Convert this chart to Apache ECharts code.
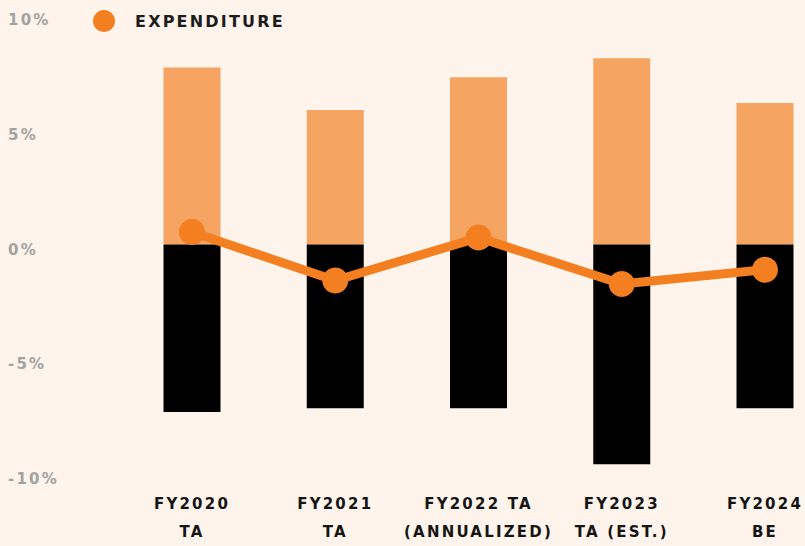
<!DOCTYPE html>
<html>
<head>
<meta charset="utf-8">
<script src="https://cdn.jsdelivr.net/npm/echarts@6/dist/echarts.min.js"></script>
<style>
  html, body { margin: 0; padding: 0; background: #FEF4EB; }
  #chart { width: 805px; height: 546px; }
  #chart text { letter-spacing: 2.2px; }
</style>
</head>
<body>
<div id="chart"></div>
<script>
// Fiscal years on the x axis
const categories = ['FY2020\nTA', 'FY2021\nTA', 'FY2022 TA\n(ANNUALIZED)', 'FY2023\nTA (EST.)', 'FY2024\nBE'];
// Positive component (orange bars), percent
const positiveValues = [7.71, 5.86, 7.29, 8.12, 6.17];
// Negative component (black bars), percent
const negativeValues = [-7.30, -7.13, -7.13, -9.57, -7.13];
// Expenditure line, percent
const expenditure = [0.54, -1.57, 0.30, -1.72, -1.10];
// Y axis range and step
const yMin = -10, yMax = 10, yStep = 5;

const chart = echarts.init(document.getElementById('chart'), null, { renderer: 'svg' });

chart.setOption({
  backgroundColor: '#FEF4EB',
  animation: false,
  textStyle: { fontFamily: 'DejaVu Sans' },
  // categories sit on the grid edges; the outer bars extend past them
  grid: { left: 192, top: 15, height: 460, width: 573 },
  legend: {
    data: ['EXPENDITURE'],
    left: 88,
    top: 5,
    icon: 'circle',
    itemWidth: 22,
    itemHeight: 22,
    textStyle: {
      fontFamily: 'DejaVu Sans',
      fontWeight: 'bold',
      fontSize: 16,
      color: '#1c1c1c',
      padding: [0, 0, 0, 15]
    }
  },
  xAxis: {
    type: 'category',
    data: categories,
    boundaryGap: false,
    axisLine: { show: false, onZero: false },
    axisTick: { show: false },
    splitLine: { show: false },
    axisLabel: {
      interval: 0,
      margin: 16,
      fontFamily: 'DejaVu Sans',
      fontWeight: 'bold',
      fontSize: 15,
      lineHeight: 28,
      color: '#151515'
    }
  },
  yAxis: {
    type: 'value',
    min: yMin,
    max: yMax,
    interval: yStep,
    axisLine: { show: false },
    axisTick: { show: false },
    splitLine: { show: false },
    axisLabel: {
      formatter: (v) => '{t|' + v + '%}',
      align: 'left',
      margin: 184,
      rich: {
        t: {
          fontFamily: 'DejaVu Sans',
          fontWeight: 'bold',
          fontSize: 15,
          color: '#A2A2A2',
          padding: [10, 0, 0, 0]
        }
      }
    }
  },
  series: [
    {
      name: 'Positive',
      type: 'bar',
      stack: 'total',
      barWidth: 57,
      clip: false,
      data: positiveValues,
      itemStyle: { color: '#F6A461' },
      z: 2
    },
    {
      name: 'Negative',
      type: 'bar',
      stack: 'total',
      barWidth: 57,
      clip: false,
      data: negativeValues,
      itemStyle: { color: '#000000' },
      z: 2
    },
    {
      name: 'EXPENDITURE',
      type: 'line',
      data: expenditure,
      clip: false,
      symbol: 'circle',
      symbolSize: 26,
      lineStyle: { width: 9, color: '#F47F20' },
      itemStyle: { color: '#F47F20' },
      z: 5
    }
  ]
});
</script>
</body>
</html>
